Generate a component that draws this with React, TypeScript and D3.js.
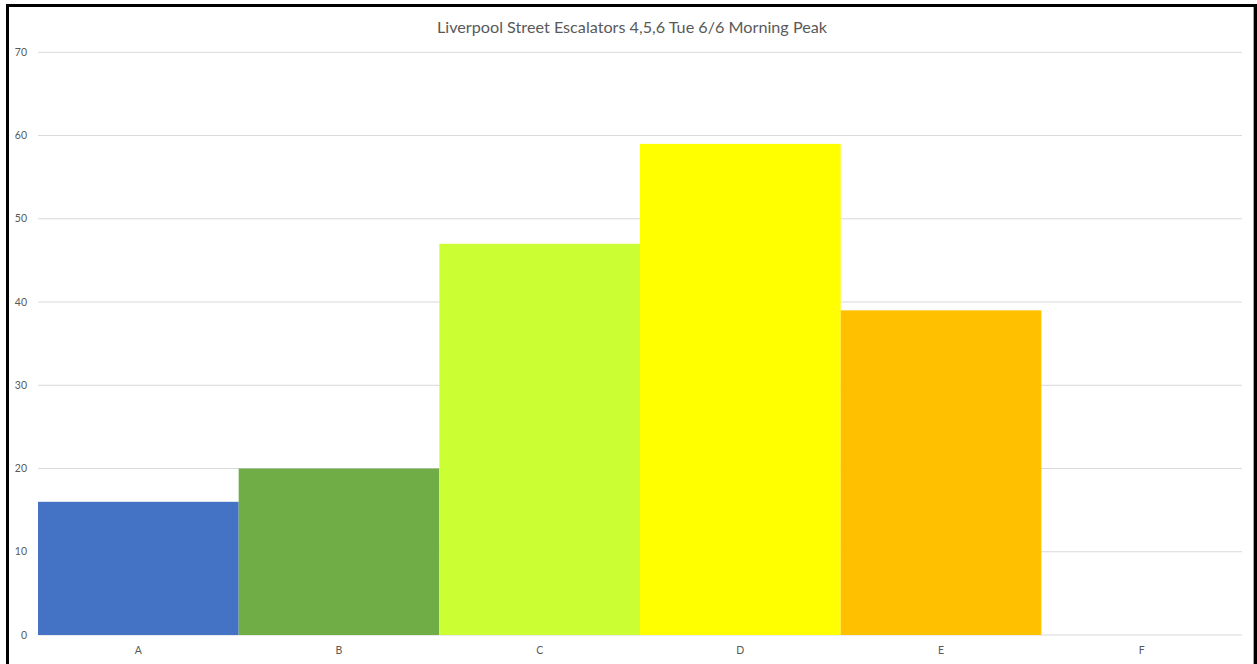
import React from "react";
import * as d3 from "d3";

const categories = ["A", "B", "C", "D", "E", "F"];
const values = [16, 20, 47, 59, 39, 0];
const barColors = ["#4472C4", "#70AD47", "#CCFF33", "#FFFF00", "#FFC000", "#FFFFFF"];
const yTicks = [0, 10, 20, 30, 40, 50, 60, 70];
const title = "Liverpool Street Escalators 4,5,6 Tue 6/6 Morning Peak";

const W = 1257;
const H = 664;
const plot = { left: 38, right: 1242, top: 52.3, bottom: 635 };
const font = "Lato, 'Open Sans', Calibri, sans-serif";

export default function App() {
  const x = d3
    .scaleBand<string>()
    .domain(categories)
    .range([plot.left, plot.right])
    .paddingInner(0)
    .paddingOuter(0);
  const y = d3.scaleLinear().domain([0, 70]).range([plot.bottom, plot.top]);

  return (
    <svg
      width={W}
      height={H}
      style={{ position: "fixed", left: 0, top: 0, background: "#fff" }}
    >
      <rect x={0} y={0} width={W} height={H} fill="#fff" />
      {/* horizontal gridlines */}
      {yTicks.map((t) => (
        <line
          key={t}
          x1={plot.left}
          x2={plot.right}
          y1={y(t)}
          y2={y(t)}
          stroke="#D9D9D9"
          strokeWidth={1}
        />
      ))}
      {/* bars */}
      {categories.map((c, i) => (
        <rect
          key={c}
          x={x(c)!}
          y={y(values[i])}
          width={x.bandwidth()}
          height={plot.bottom - y(values[i])}
          fill={barColors[i]}
        />
      ))}
      {/* y tick labels */}
      {yTicks.map((t) => (
        <text
          key={t}
          x={27}
          y={y(t)}
          dy="0.35em"
          textAnchor="end"
          fontSize={10.5}
          fontFamily={font}
          fill="#595959"
        >
          {t}
        </text>
      ))}
      {/* category labels */}
      {categories.map((c) => (
        <text
          key={c}
          x={x(c)! + x.bandwidth() / 2}
          y={650}
          dy="0.35em"
          textAnchor="middle"
          fontSize={10.5}
          fontFamily={font}
          fill="#595959"
        >
          {c}
        </text>
      ))}
      {/* title */}
      <text
        x={632}
        y={27}
        dy="0.35em"
        textAnchor="middle"
        fontSize={16.2}
        fontFamily={font}
        fill="#595959"
      >
        {title}
      </text>
      {/* outer frame */}
      <line x1={7.5} x2={7.5} y1={4} y2={H} stroke="#000" strokeWidth={3} />
      <line x1={6} x2={1257} y1={5.5} y2={5.5} stroke="#000" strokeWidth={3} />
      <line x1={1255.5} x2={1255.5} y1={4} y2={H} stroke="#000" strokeWidth={3} />
      <line x1={1253.5} x2={1253.5} y1={7} y2={H} stroke="#A6A6A6" strokeWidth={1} />
    </svg>
  );
}
